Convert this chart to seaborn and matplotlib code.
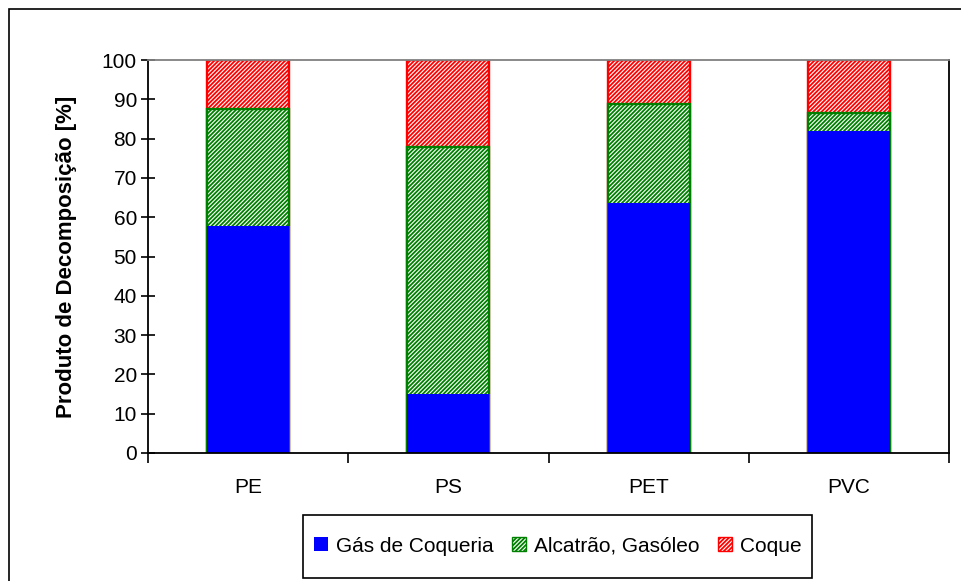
import matplotlib
matplotlib.use("Agg")
import matplotlib.pyplot as plt
import seaborn as sns
import pandas as pd
from matplotlib.patches import Patch, Rectangle
from matplotlib.ticker import FixedLocator

categories = ["PE", "PS", "PET", "PVC"]
gas = [57.8, 15.0, 63.7, 82.0]
alcatrao = [29.7, 62.9, 25.0, 4.6]
coque = [12.5, 22.1, 11.3, 13.4]
series_names = ["Gás de Coqueria", "Alcatrão, Gasóleo", "Coque"]
ylabel = "Produto de Decomposição [%]"
yticks = [0, 10, 20, 30, 40, 50, 60, 70, 80, 90, 100]

sns.set_style("white")
plt.rcParams["font.family"] = ["Liberation Sans", "DejaVu Sans"]
plt.rcParams["hatch.linewidth"] = 1.3
plt.rcParams["text.color"] = "black"
plt.rcParams["axes.labelcolor"] = "black"
plt.rcParams["xtick.color"] = "black"
plt.rcParams["ytick.color"] = "black"

FS = 15

df = pd.DataFrame({"cat": categories, "gas": gas, "alc": alcatrao, "coq": coque})
df["top_alc"] = df["gas"] + df["alc"]
df["top_coq"] = df["top_alc"] + df["coq"]

fig = plt.figure(figsize=(9.61, 5.81), dpi=100)
ax = fig.add_axes([148/961, 1-453/581, (949-148)/961, (453-60)/581])

hatch = "////////"


def layer(col, face, edge, hatch_pat, lw):
    n0 = len(ax.patches)
    sns.barplot(data=df, x="cat", y=col, order=categories, color=face,
                width=0.41, ax=ax, saturation=1)
    for p in ax.patches[n0:]:
        p.set_facecolor(face)
        p.set_edgecolor(edge)
        p.set_hatch(hatch_pat)
        p.set_linewidth(lw)


layer("top_coq", "white", "red", hatch, 1.7)
layer("top_alc", "white", "green", hatch, 1.7)
layer("gas", "blue", "blue", None, 0)

ax.set_xlim(-0.5, 3.5)
ax.set_ylim(0, 100)
ax.set_yticks(yticks)
ax.set_yticklabels([str(t) for t in yticks], fontsize=FS)
ax.tick_params(axis="y", left=True, direction="inout", length=10, width=1.2,
               color="black", labelcolor="black", pad=3)
ax.set_xticks(range(len(categories)))
ax.set_xticklabels(categories, fontsize=FS)
ax.tick_params(axis="x", which="major", bottom=True, length=0, pad=18, labelcolor="black")
ax.xaxis.set_minor_locator(FixedLocator([-0.5, 0.5, 1.5, 2.5, 3.5]))
ax.tick_params(axis="x", which="minor", bottom=True, direction="out", length=7,
               width=1.2, color="black")
ax.set_xlabel("")
ax.set_ylabel(ylabel, fontsize=16, fontweight="bold", color="black")
ax.yaxis.set_label_coords((77 - 148) / 801, 0.5)

for side in ["left", "bottom", "right"]:
    ax.spines[side].set_visible(True)
    ax.spines[side].set_color("black")
    ax.spines[side].set_linewidth(1.3)
ax.spines["top"].set_visible(True)
ax.spines["top"].set_color("#808080")
ax.spines["top"].set_linewidth(1.3)

handles = [
    Patch(facecolor="blue", edgecolor="blue", linewidth=0),
    Patch(facecolor="white", edgecolor="green", hatch="////////", linewidth=1),
    Patch(facecolor="white", edgecolor="red", hatch="////////", linewidth=1),
]
leg = fig.legend(handles, series_names, loc="center", bbox_to_anchor=(558/961, 1-546/581),
                 ncol=3, fontsize=FS, frameon=False,
                 handlelength=0.65, handleheight=0.65, handletextpad=0.4,
                 columnspacing=0.9, borderpad=0.2, borderaxespad=0)
for t in leg.get_texts():
    t.set_color("black")

fig.patches.append(Rectangle((303/961, 1-578/581), (812-303)/961, (578-515)/581,
                             transform=fig.transFigure, fill=False,
                             edgecolor="black", linewidth=1.2))
fig.patches.append(Rectangle((9/961, -0.1), 1.0, 1-9/581+0.1, transform=fig.transFigure,
                             fill=False, edgecolor="black", linewidth=1.2))

fig.savefig("out.png", dpi=100)
